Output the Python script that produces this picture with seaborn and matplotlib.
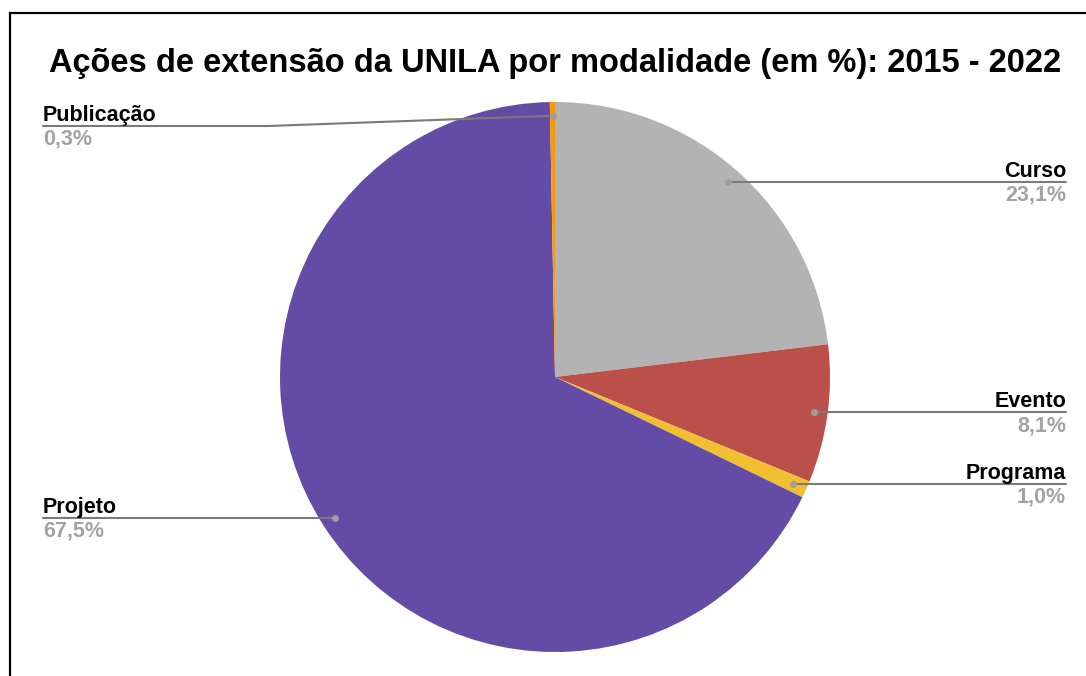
import numpy as np
import matplotlib
matplotlib.use("Agg")
import matplotlib.pyplot as plt
import seaborn as sns
from matplotlib.patches import Rectangle
from matplotlib.lines import Line2D

# ---- data ----
categories = ["Curso", "Evento", "Programa", "Projeto", "Publicação"]
values = [23.1, 8.1, 1.0, 67.5, 0.3]
pct_labels = ["23,1%", "8,1%", "1,0%", "67,5%", "0,3%"]
colors = ["#b3b3b3", "#bb4f4a", "#f2bf33", "#644ba5", "#ff9900"]
title = "Ações de extensão da UNILA por modalidade (em %): 2015 - 2022"

sns.set_theme(style="white")
plt.rcParams["font.family"] = ["Liberation Sans", "DejaVu Sans"]

W, H = 1086, 676
fig = plt.figure(figsize=(W / 100, H / 100), dpi=100)
fig.patch.set_facecolor("white")

def fx(x):
    return x / W

def fy(y):
    return 1 - y / H

cx, cy, R = 555, 377, 275
ax = fig.add_axes([fx(cx - R), fy(cy + R), 2 * R / W, 2 * R / H])
wedges, _ = ax.pie(values, colors=colors, startangle=90, counterclock=False,
                   wedgeprops=dict(linewidth=0))
ax.set_xlim(-1, 1)
ax.set_ylim(-1, 1)
ax.set_aspect("equal")
ax.axis("off")

# frame (only left/top edges visible)
fig.patches.append(Rectangle((fx(10), fy(700)), fx(1100) - fx(10), fy(13) - fy(700),
                             transform=fig.transFigure, fill=False,
                             edgecolor="black", linewidth=1.6, clip_on=False))

fig.text(fx(555), fy(72), title, ha="center", va="baseline",
         fontsize=23.5, fontweight="bold", color="black")

# label layout: side and optional elbow
sides = ["right", "right", "right", "left", "left"]
line_y_override = {"Publicação": 126}
left_x, right_x = 43, 1066

fig.canvas.draw()
cum = np.cumsum([0] + values[:-1])
for i, cat in enumerate(categories):
    mid = 90 - (cum[i] + values[i] / 2) * 3.6
    r = 0.95
    dx, dy = r * np.cos(np.radians(mid)), r * np.sin(np.radians(mid))
    px, py = ax.transData.transform((dx, dy))
    dot_x, dot_y = px, H - py
    ly = line_y_override.get(cat, dot_y)
    if sides[i] == "right":
        xs = [fx(dot_x), fx(right_x)]
        ys = [fy(dot_y), fy(ly)]
        tx, ha = right_x, "right"
    else:
        if cat in line_y_override:
            xs = [fx(left_x), fx(268), fx(dot_x)]
            ys = [fy(ly), fy(ly), fy(dot_y)]
        else:
            xs = [fx(left_x), fx(dot_x)]
            ys = [fy(ly), fy(dot_y)]
        tx, ha = left_x, "left"
    fig.lines.append(Line2D(xs, ys, transform=fig.transFigure, color="#7a7a7a",
                            linewidth=1.5))
    fig.lines.append(Line2D([fx(dot_x)], [fy(dot_y)], transform=fig.transFigure,
                            marker="o", markersize=5, color="#9e9e9e",
                            markeredgewidth=0, linestyle="none"))
    fig.text(fx(tx), fy(ly - 5), cat, ha=ha, va="baseline", fontsize=15.5,
             fontweight="bold", color="black")
    fig.text(fx(tx), fy(ly + 3), pct_labels[i], ha=ha, va="top", fontsize=15.5,
             fontweight="bold", color="#a3a3a3")

fig.savefig("out.png", dpi=100, facecolor="white")
